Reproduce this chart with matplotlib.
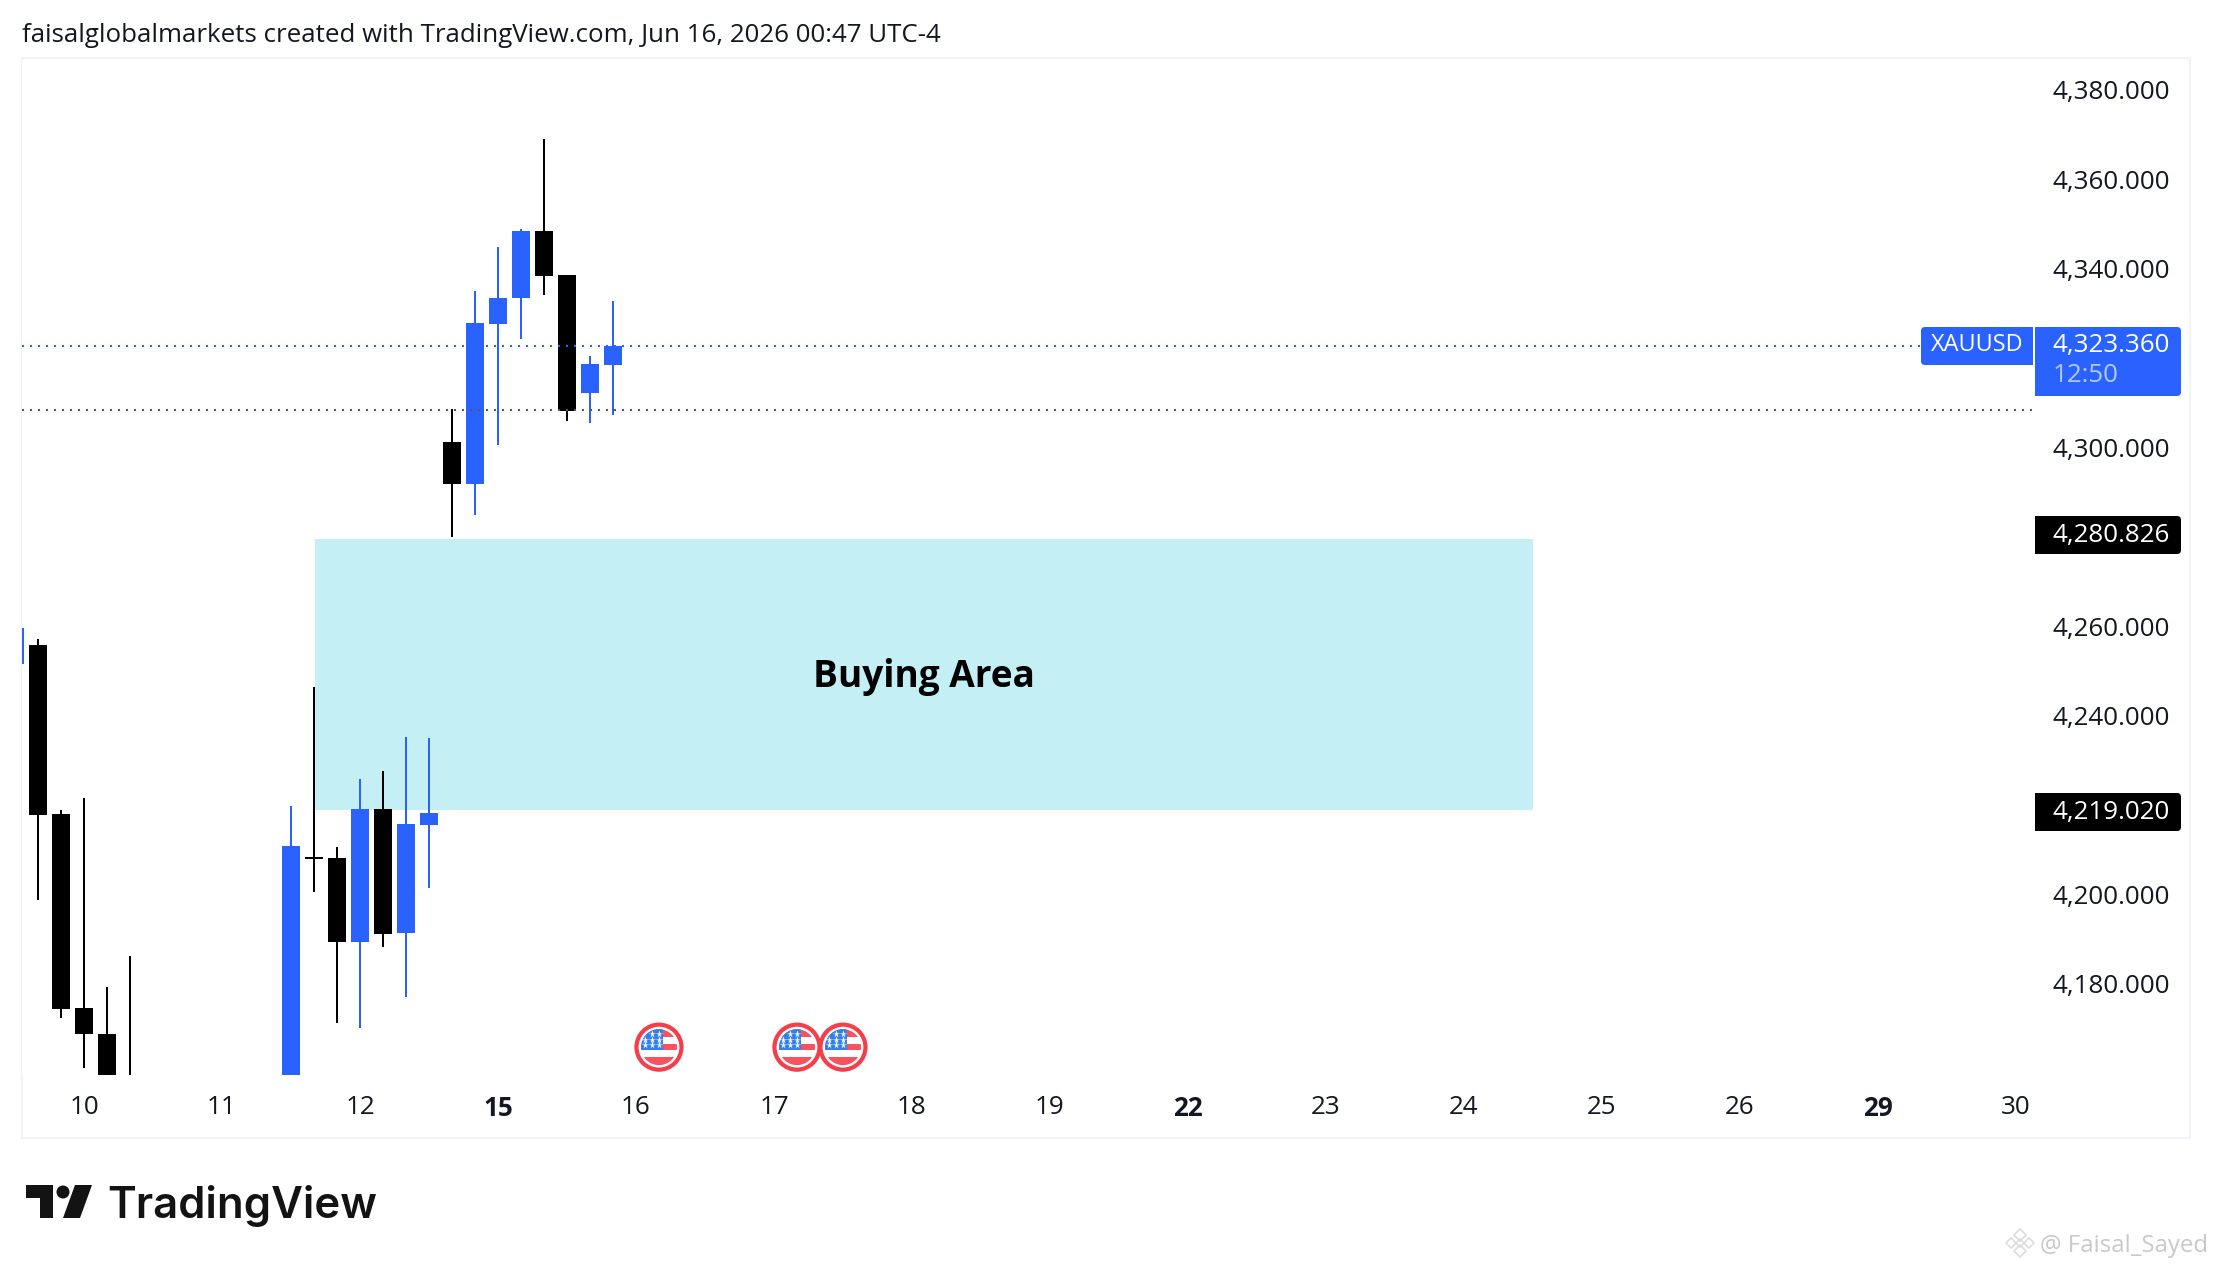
import matplotlib
matplotlib.use("Agg")
import matplotlib.pyplot as plt
from matplotlib.patches import Rectangle, FancyBboxPatch, Circle, Polygon
from matplotlib.transforms import IdentityTransform, Affine2D

W, H = 2213, 1269
FONT = "Open Sans"
plt.rcParams["font.family"] = [FONT, "DejaVu Sans"]

# ---- data -------------------------------------------------------------
candle_idx = [-1, 0, 1, 2, 3, 4, 11, 12, 13, 14, 15, 16, 17, 18, 19, 20, 21, 22, 23, 24, 25]
opens  = [4252.2, 4256.5, 4218.7, 4175.3, 4169.5, 4155.0, 4150.0, 4209.1, 4208.9, 4190.0, 4219.8,
          4192.1, 4216.2, 4301.9, 4292.5, 4328.3, 4334.1, 4349.1, 4339.2, 4312.8, 4319.1]
highs  = [4260.3, 4257.8, 4219.6, 4222.2, 4180.0, 4186.9, 4220.5, 4247.1, 4211.3, 4226.5, 4228.3,
          4235.9, 4235.7, 4309.3, 4335.7, 4345.5, 4349.5, 4369.7, 4339.2, 4321.1, 4333.4]
lows   = [4252.2, 4199.4, 4173.1, 4161.8, 4150.0, 4142.0, 4145.0, 4201.2, 4171.9, 4170.8, 4188.9,
          4177.7, 4202.1, 4280.7, 4285.6, 4301.2, 4324.9, 4334.8, 4306.6, 4306.1, 4307.9]
closes = [4260.3, 4218.5, 4175.1, 4169.5, 4155.0, 4148.0, 4211.5, 4208.7, 4190.0, 4219.8, 4191.9,
          4216.4, 4218.9, 4292.5, 4328.5, 4334.1, 4349.1, 4339.0, 4308.8, 4319.3, 4323.36]

price_ticks = [4180, 4200, 4240, 4260, 4300, 4340, 4360, 4380]
time_idx = [2, 8, 14, 20, 26, 32, 38, 44, 50, 56, 62, 68, 74, 80, 86]
time_labels = ["10", "11", "12", "15", "16", "17", "18", "19", "22", "23", "24", "25", "26", "29", "30"]
bold_labels = ["15", "22", "29"]

last_price = 4323.36
prev_close = 4309.04
zone_start, zone_end = 12.04, 65.0
zone_top, zone_bottom = 4280.2, 4219.6
zone_top_label, zone_bottom_label = 4280.826, 4219.02
event_idx = [27, 33, 35]
event_price = 4166.5
symbol = "XAUUSD"
countdown = "12:50"
zone_label = "Buying Area"
header = "faisalglobalmarkets created with TradingView.com, Jun 16, 2026 00:47 UTC-4"
watermark = "@ Faisal_Sayed"

BLUE = "#2962ff"
BLACK = "#000000"
TXT = "#131722"
FRAME = "#f0f3fa"
ZONE = "#c3eff5"
PX = 0.72  # points per pixel at dpi 100
TICK = 26

# ---- figure -----------------------------------------------------------
fig = plt.figure(figsize=(W / 100, H / 100), dpi=100, facecolor="white")
L, R, T, B = 22, 2032, 60, 1075
ax = fig.add_axes([L / W, 1 - B / H, (R - L) / W, (B - T) / H])
ax.set_xlim(-0.696, 86.7)
ax.set_ylim(4160.27, 4387.34)
for s in ax.spines.values():
    s.set_visible(False)


def Y(y):
    return H - y


fig.add_artist(Rectangle((22, Y(1138)), 2190 - 22, 1138 - 58, transform=IdentityTransform(),
                         fill=False, edgecolor=FRAME, lw=1.5, zorder=0))

# zone
ax.add_patch(Rectangle((zone_start, zone_bottom), zone_end - zone_start, zone_top - zone_bottom,
                       facecolor=ZONE, edgecolor="none", zorder=1))
ax.text((zone_start + zone_end) / 2, 4249.4, zone_label, ha="center", va="center",
        fontsize=37 * PX, fontweight="bold", color=BLACK, zorder=5)

# price lines
ax.axhline(last_price, color=BLUE, lw=2 * PX, ls=(0, (1, 3)), zorder=4.5)
ax.axhline(prev_close, color="#555555", lw=2 * PX, ls=(0, (1, 3)), zorder=4.5)

# candles
for i, o, h, l, c in zip(candle_idx, opens, highs, lows, closes):
    col = BLUE if c >= o else BLACK
    ax.vlines(i, l, h, color=col, lw=2 * PX, zorder=3)
    ax.bar(i, abs(c - o), bottom=min(o, c), width=18 / 23, color=col, linewidth=0, zorder=4)

# axes labels
ax.xaxis.tick_bottom()
ax.set_xticks(time_idx)
ax.set_xticklabels(time_labels, fontsize=TICK * PX, color=TXT)
for t in ax.get_xticklabels():
    if t.get_text() in bold_labels:
        t.set_fontweight("bold")
ax.tick_params(axis="x", length=0, pad=20 * PX)
ax.yaxis.tick_right()
ax.set_yticks(price_ticks)
ax.set_yticklabels([f"{p:,.3f}" for p in price_ticks], fontsize=TICK * PX, color=TXT, ha="right")
ax.tick_params(axis="y", length=0, pad=(2170 - R) * PX)
for tick in ax.yaxis.get_major_ticks():
    tick.label2.set_transform(tick.label2.get_transform() + Affine2D().translate(0, 3))


# chips on the price scale
def chip(x0, y0, x1, y1, color, flat):
    fig.add_artist(FancyBboxPatch((x0 + 4, Y(y1) + 4), x1 - x0 - 8, y1 - y0 - 8,
                                  boxstyle="round,pad=4,rounding_size=4", transform=IdentityTransform(),
                                  facecolor=color, edgecolor="none", zorder=6))
    rx0 = x0 if flat == "left" else x1 - 8
    fig.add_artist(Rectangle((rx0, Y(y1)), 8, y1 - y0, transform=IdentityTransform(),
                             facecolor=color, edgecolor="none", zorder=6))


def ctext(x, y, s, color, ha="left", size=TICK):
    fig.text(x / W, 1 - y / H, s, color=color, ha=ha, va="center", fontsize=size * PX, zorder=7)


chip(1921, 327, 2033, 365, BLUE, "right")
ctext(1977, 345, symbol, "white", ha="center", size=23.5)
chip(2035, 327, 2181, 396, BLUE, "left")
ctext(2170, 345, f"{last_price:,.3f}", "white", ha="right")
ctext(2053, 375, countdown, "#b4c8ff")
for p, yc in ((zone_top_label, 535), (zone_bottom_label, 812)):
    chip(2035, yc - 19, 2181, yc + 19, BLACK, "left")
    ctext(2170, yc, f"{p:,.3f}", "white", ha="right")

# events
fig.canvas.draw()
for e in event_idx:
    cx, cy = ax.transData.transform((e, event_price))
    it = IdentityTransform()
    clip = Circle((cx, cy), 18, transform=it)
    ax.add_patch(Circle((cx, cy), 22.5, transform=it, facecolor="white", edgecolor="#f23f4b", lw=3 * PX * 1.4,
                        zorder=8, clip_on=False))
    rects = [(-18, 10, 36, 8, "#f7525f"), (-18, -3, 36, 6.5, "#f7525f"), (-18, -18, 36, 8, "#f7525f"),
             (-18, -3, 22, 21, "#2f80ed")]
    for dx, dy, w, h, col in rects:
        r = Rectangle((cx + dx, cy + dy), w, h, transform=it, facecolor=col, edgecolor="none", zorder=9)
        ax.add_patch(r)
        r.set_clip_path(clip)
    for row, cols in ((1.7, (-14, -7, 0)), (7, (-14, -7, 0)), (13, (-7, 0))):
        for col_x in cols:
            ax.plot([cx + col_x], [cy + row], marker="*", ms=5.5, mfc="white", mec="none", transform=it,
                    zorder=10, clip_on=False)

# header
fig.text(22 / W, 1 - 35 / H, header, fontsize=25.9 * PX, color=TXT, va="center", ha="left")

# logo
LOGO = "#131313"
it = IdentityTransform()
mark = [[(26, 1185), (53, 1185), (53, 1218), (39.5, 1218), (39.5, 1198), (26, 1198)],
        [(75, 1185), (92, 1185), (80, 1218), (63, 1218)]]
for pts in mark:
    fig.add_artist(Polygon([(x, Y(y)) for x, y in pts], closed=True, transform=it, facecolor=LOGO, edgecolor="none"))
fig.add_artist(Circle((63, Y(1192)), 6.5, transform=it, facecolor=LOGO, edgecolor="none"))
fig.text(107 / W, 1 - 1218 / H, "TradingView", fontsize=43.7 * PX, color=LOGO, family=["Inter", "DejaVu Sans"],
         fontweight="semibold", ha="left", va="baseline")

# watermark
WM = "#c9c9c9"
fig.text(2040 / W, 1 - 1246 / H, watermark, fontsize=24 * PX, color=WM, va="center", ha="left")
for dx, dy, s in ((0, -8, 6), (-9, 0, 5), (9, 0, 5), (0, 8, 6), (0, 0, 4)):
    x0, y0 = 2020 + dx, 1243 + dy
    fig.add_artist(Polygon([(x0 - s, Y(y0)), (x0, Y(y0 - s)), (x0 + s, Y(y0)), (x0, Y(y0 + s))], closed=True,
                           transform=it, facecolor="none", edgecolor="#dddddd", lw=1.2))

fig.savefig("out.png", dpi=100, facecolor="white")
